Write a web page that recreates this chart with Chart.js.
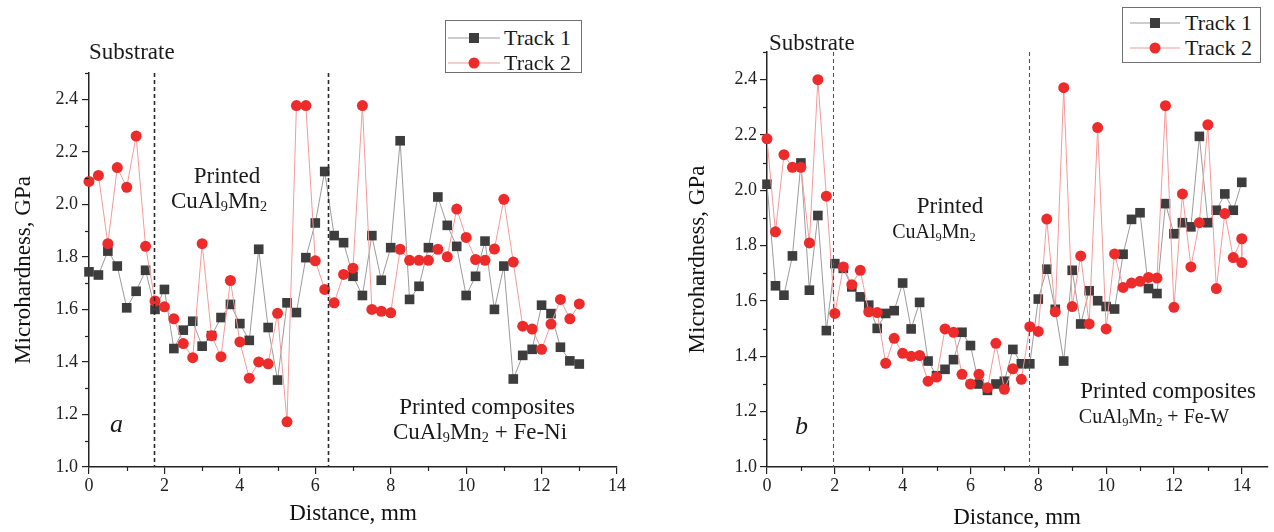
<!DOCTYPE html>
<html><head><meta charset="utf-8">
<script src="https://cdn.jsdelivr.net/npm/chart.js@4.4.0/dist/chart.umd.min.js"></script>
<style>
html,body{margin:0;padding:0;background:#fff;width:1274px;height:532px;overflow:hidden;position:relative;font-family:"Liberation Serif","Times New Roman",serif;color:#1a1a1a}
.wrap{position:absolute;top:0}
.t{position:absolute;white-space:nowrap;line-height:1}
.c{transform:translateX(-50%)}
sub{font-size:0.62em;vertical-align:-0.22em;line-height:0}
.lg{position:absolute;border:1px solid #707070;box-sizing:border-box;background:#fff}
.lg svg{position:absolute}
</style></head><body>
<div class="wrap" style="left:0;width:640px;height:532px"><canvas id="ca" width="640" height="532"></canvas></div>
<div class="wrap" style="left:680px;width:594px;height:532px"><canvas id="cb" width="594" height="532"></canvas></div>

<!-- panel a annotations -->
<div class="t" style="left:89px;top:40px;font-size:23px">Substrate</div>
<div class="t c" style="left:227px;top:164px;font-size:23px">Printed</div>
<div class="t c" style="left:219px;top:189px;font-size:23px">CuAl<sub>9</sub>Mn<sub>2</sub></div>
<div class="t c" style="left:487px;top:395px;font-size:23px">Printed composites</div>
<div class="t c" style="left:480px;top:420px;font-size:23px">CuAl<sub>9</sub>Mn<sub>2</sub> + Fe-Ni</div>
<div class="t" style="left:110px;top:411px;font-size:26px;font-style:italic">a</div>
<div class="lg" style="left:445px;top:20px;width:137px;height:53px">
  <svg style="left:2px;top:7px" width="52" height="20"><line x1="0" y1="10" x2="52" y2="10" stroke="#9b9b9b" stroke-width="1"/><rect x="21" y="5" width="10" height="10" fill="#3d3d3d"/></svg>
  <div class="t" style="left:58px;top:6px;font-size:22px">Track 1</div>
  <svg style="left:2px;top:32px" width="52" height="20"><line x1="0" y1="10" x2="52" y2="10" stroke="#f59a9a" stroke-width="1"/><circle cx="26" cy="10" r="5.5" fill="#ee2b2b"/></svg>
  <div class="t" style="left:58px;top:31px;font-size:22px">Track 2</div>
</div>

<!-- panel b annotations -->
<div class="t" style="left:769px;top:31px;font-size:23px">Substrate</div>
<div class="t c" style="left:950px;top:194px;font-size:23px">Printed</div>
<div class="t c" style="left:934px;top:221px;font-size:20px">CuAl<sub>9</sub>Mn<sub>2</sub></div>
<div class="t c" style="left:1168px;top:379px;font-size:23px">Printed composites</div>
<div class="t c" style="left:1154px;top:406px;font-size:20px">CuAl<sub>9</sub>Mn<sub>2</sub> + Fe-W</div>
<div class="t" style="left:795px;top:413px;font-size:26px;font-style:italic">b</div>
<div class="lg" style="left:1122px;top:7px;width:139px;height:56px">
  <svg style="left:7px;top:5px" width="50" height="20"><line x1="0" y1="10" x2="50" y2="10" stroke="#9b9b9b" stroke-width="1"/><rect x="20" y="5" width="10" height="10" fill="#3d3d3d"/></svg>
  <div class="t" style="left:62px;top:4px;font-size:22px">Track 1</div>
  <svg style="left:7px;top:30px" width="50" height="20"><line x1="0" y1="10" x2="50" y2="10" stroke="#f59a9a" stroke-width="1"/><circle cx="25" cy="10" r="5.5" fill="#ee2b2b"/></svg>
  <div class="t" style="left:62px;top:29px;font-size:22px">Track 2</div>
</div>

<script>
// ---- Panel a data (Fe-Ni) ----
const distanceA = [0,0.25,0.5,0.75,1,1.25,1.5,1.75,2,2.25,2.5,2.75,3,3.25,3.5,3.75,4,4.25,4.5,4.75,5,5.25,5.5,5.75,6,6.25,6.5,6.75,7,7.25,7.5,7.75,8,8.25,8.5,8.75,9,9.25,9.5,9.75,10,10.25,10.5,10.75,11,11.25,11.5,11.75,12,12.25,12.5,12.75,13];
const track1A = [1.743,1.731,1.822,1.765,1.606,1.669,1.749,1.60,1.676,1.451,1.521,1.555,1.46,1.50,1.569,1.619,1.546,1.482,1.829,1.531,1.331,1.625,1.588,1.797,1.929,2.125,1.881,1.854,1.726,1.653,1.881,1.711,1.835,2.242,1.638,1.688,1.835,2.028,1.92,1.84,1.653,1.726,1.86,1.60,1.765,1.335,1.425,1.448,1.616,1.584,1.456,1.404,1.392];
const track2A = [2.087,2.11,1.85,2.14,2.065,2.26,1.84,1.632,1.61,1.564,1.47,1.416,1.85,1.50,1.42,1.71,1.476,1.338,1.40,1.393,1.585,1.172,2.376,2.376,1.785,1.676,1.625,1.733,1.757,2.376,1.60,1.593,1.587,1.829,1.787,1.787,1.787,1.829,1.80,1.982,1.874,1.79,1.787,1.83,2.019,1.78,1.536,1.525,1.448,1.544,1.638,1.564,1.621];
const boundariesA = [1.72, 6.33];

// ---- Panel b data (Fe-W) ----
const distanceB1 = [0,0.25,0.5,0.75,1,1.25,1.5,1.75,2,2.25,2.5,2.75,3,3.25,3.5,3.75,4,4.25,4.5,4.75,5,5.25,5.5,5.75,6,6.25,6.5,6.75,7,7.25,7.5,7.75,8,8.25,8.5,8.75,9,9.25,9.5,9.75,10,10.25,10.5,10.75,11,11.25,11.5,11.75,12,12.25,12.5,12.75,13,13.25,13.5,13.75,14];
const track1B = [2.022,1.655,1.621,1.763,2.099,1.639,1.909,1.493,1.735,1.718,1.651,1.615,1.585,1.501,1.555,1.565,1.665,1.499,1.595,1.383,1.33,1.353,1.388,1.487,1.439,1.30,1.277,1.30,1.31,1.425,1.373,1.373,1.607,1.715,1.57,1.383,1.711,1.517,1.637,1.601,1.58,1.571,1.769,1.895,1.919,1.645,1.627,1.952,1.843,1.883,1.868,2.195,1.883,1.928,1.987,1.928,2.029];
const distanceB2 = [0,0.25,0.5,0.75,1,1.25,1.5,1.75,2,2.25,2.5,2.75,3,3.25,3.5,3.75,4,4.25,4.5,4.75,5,5.25,5.5,5.75,6,6.25,6.5,6.75,7,7.25,7.5,7.75,8,8.25,8.5,8.75,9,9.25,9.5,9.75,10,10.25,10.5,10.75,11,11.25,11.5,11.75,12,12.25,12.5,12.75,13,13.25,13.5,13.75,14,14];
const track2B = [2.186,1.85,2.129,2.083,2.083,1.81,2.40,1.979,1.555,1.723,1.659,1.711,1.561,1.558,1.375,1.465,1.411,1.40,1.403,1.31,1.325,1.499,1.487,1.335,1.30,1.335,1.286,1.447,1.281,1.355,1.317,1.507,1.49,1.896,1.561,2.371,1.58,1.763,1.517,2.227,1.499,1.77,1.649,1.665,1.671,1.685,1.683,2.306,1.577,1.987,1.723,1.883,2.237,1.645,1.916,1.757,1.825,1.739];
const boundariesB = [1.94, 7.74];

const yTicks = [1.0,1.2,1.4,1.6,1.8,2.0,2.2,2.4];
const xTicks = [0,2,4,6,8,10,12,14];

Chart.defaults.font.family = '"Liberation Serif","Times New Roman",serif';
Chart.defaults.color = '#222';

const decor = {
  id: 'decor',
  afterDatasetsDraw(chart, args, o) {
    const {ctx, chartArea, scales} = chart;
    ctx.save();
    ctx.setLineDash(o.dash);
    ctx.strokeStyle = o.lineColor;
    ctx.lineWidth = o.lineWidth;
    o.lines.forEach(v => {
      const px = Math.round(scales.x.getPixelForValue(v)) + 0.5;
      ctx.beginPath();
      ctx.moveTo(px, chartArea.top);
      ctx.lineTo(px, chartArea.bottom);
      ctx.stroke();
    });
    ctx.restore();
  },
  afterDraw(chart, args, o) {
    const {ctx, chartArea, scales} = chart;
    ctx.save();
    ctx.strokeStyle = '#222';
    ctx.lineWidth = 1.2;
    for (let k = 0; k < 8; k++) {
      const v = 1.1 + 0.2 * k;
      const py = Math.round(scales.y.getPixelForValue(v)) + 0.5;
      ctx.beginPath(); ctx.moveTo(chartArea.left - 4, py); ctx.lineTo(chartArea.left, py); ctx.stroke();
    }
    for (let k = 0; k < 7; k++) {
      const v = 1 + 2 * k;
      const px = Math.round(scales.x.getPixelForValue(v)) + 0.5;
      ctx.beginPath(); ctx.moveTo(px, chartArea.bottom); ctx.lineTo(px, chartArea.bottom + 4); ctx.stroke();
    }
    ctx.restore();
  }
};

function pts(xs, ys) { return xs.map((x, i) => ({x: x, y: ys[i]})); }

function makePanel(id, cfg) {
  new Chart(document.getElementById(id), {
    type: 'line',
    data: {
      datasets: [
        { label: 'Track 1', data: pts(cfg.x1, cfg.y1), order: 1, clip: false,
          borderColor: '#9b9b9b', borderWidth: 1, pointStyle: 'rect', pointRadius: 6.8,
          pointBackgroundColor: '#3d3d3d', pointBorderColor: '#3d3d3d', pointBorderWidth: 0, tension: 0 },
        { label: 'Track 2', data: pts(cfg.x2, cfg.y2), order: 0, clip: false,
          borderColor: '#f59a9a', borderWidth: 1, pointStyle: 'circle', pointRadius: 5.5,
          pointBackgroundColor: '#ee2b2b', pointBorderColor: '#ee2b2b', pointBorderWidth: 0, tension: 0 }
      ]
    },
    options: {
      responsive: false, animation: false, events: [],
      layout: { padding: { top: cfg.padTop, right: cfg.padRight, left: 0, bottom: 0 } },
      plugins: {
        legend: { display: false }, tooltip: { enabled: false },
        decor: { lines: cfg.lines, dash: cfg.dash, lineColor: cfg.lineColor, lineWidth: cfg.lineWidth }
      },
      scales: {
        x: {
          type: 'linear', min: 0, max: cfg.xMax,
          afterFit: s => { s.height = 65; },
          afterBuildTicks: s => { s.ticks = xTicks.map(v => ({value: v})); },
          ticks: { font: { size: 18 }, color: '#222', padding: 1, maxRotation: 0, callback: v => String(v) },
          grid: { display: true, drawOnChartArea: false, drawTicks: true, tickLength: 7, color: '#222', lineWidth: 1.2 },
          border: { display: true, color: '#222', width: 1.5 },
          title: { display: true, text: 'Distance, mm', font: { size: 23 }, color: '#111', padding: { top: 0, bottom: cfg.xTitlePad } }
        },
        y: {
          type: 'linear', min: 1.0, max: 2.5,
          afterFit: s => { s.width = cfg.yWidth; },
          afterBuildTicks: s => { s.ticks = yTicks.map(v => ({value: v})); },
          ticks: { font: { size: 18 }, color: '#222', padding: cfg.yTickPad, callback: v => v.toFixed(1) },
          grid: { display: true, drawOnChartArea: false, drawTicks: true, tickLength: 7, color: '#222', lineWidth: 1.2 },
          border: { display: true, color: '#222', width: 1.5 },
          title: { display: true, text: 'Microhardness, GPa', font: { size: 23 }, color: '#111', padding: { top: cfg.yTitlePad, bottom: 0 } }
        }
      }
    },
    plugins: [decor]
  });
}

makePanel('ca', { x1: distanceA, y1: track1A, x2: distanceA, y2: track2A, lines: boundariesA,
  dash: [4, 3], lineColor: '#2a2a2a', lineWidth: 1.6, padTop: 73, padRight: 23, xMax: 14,
  yWidth: 89, yTickPad: 4, yTitlePad: 10, xTitlePad: 4 });
makePanel('cb', { x1: distanceB1, y1: track1B, x2: distanceB2, y2: track2B, lines: boundariesB,
  dash: [4, 3], lineColor: '#555', lineWidth: 1.1, padTop: 52, padRight: 0, xMax: 14.75,
  yWidth: 87, yTickPad: 3, yTitlePad: 4, xTitlePad: 0 });
</script>
</body></html>
